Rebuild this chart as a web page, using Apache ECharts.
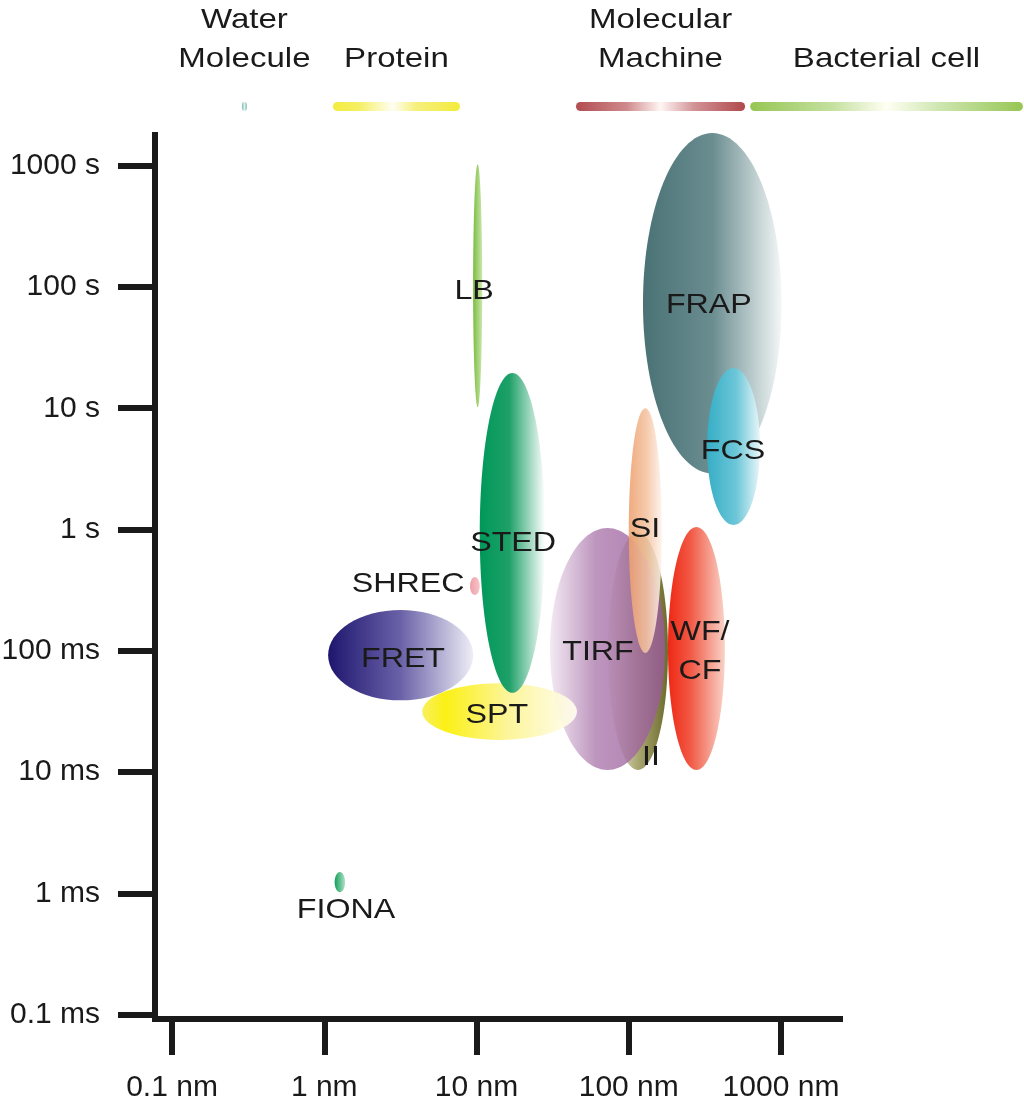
<!DOCTYPE html>
<html>
<head>
<meta charset="utf-8">
<script src="https://cdn.jsdelivr.net/npm/echarts@6/dist/echarts.min.js"></script>
<style>html,body{margin:0;padding:0;background:#fff;}#chart{width:1024px;height:1106px;}</style>
</head>
<body>
<div id="chart"></div>
<script>
// ---- tick labels ----
const xTickValues = [0.1, 1, 10, 100, 1000];
const xTickLabels = ['0.1 nm', '1 nm', '10 nm', '100 nm', '1000 nm'];
const yTickValues = [0.0001, 0.001, 0.01, 0.1, 1, 10, 100, 1000];
const yTickLabels = ['0.1 ms', '1 ms', '10 ms', '100 ms', '1 s', '10 s', '100 s', '1000 s'];

// ---- methods: spatial (nm) and temporal (s) ranges, drawing order ----
const methods   = ['II', 'TIRF', 'SI', 'WF/CF', 'FRAP', 'FCS', 'LB', 'SPT', 'FRET', 'STED', 'SHREC', 'FIONA'];
const sizeMinNm = [73,   30.4,   100,  181,     124,    327,   9.5,  4.4,   1.06,   10.5,   9.06,    1.17];
const sizeMaxNm = [181,  173,    165,  428,     1010,   728,   10.9, 45.7,  9.5,    28.2,   10.5,    1.37];
const timeMinS  = [0.0104, 0.0104, 0.096, 0.0104, 2.9, 1.09, 10.2, 0.0184, 0.039, 0.045, 0.288, 0.00102];
const timeMaxS  = [0.94,   1.03,   10,    1.05,   1860, 21.5, 1030, 0.054, 0.217, 19.5,  0.406, 0.0015];

// ---- method labels ----
const labelText = ['LB', 'FRAP', 'FCS', 'STED', 'SI', 'SHREC', 'FRET', 'TIRF', 'WF/\nCF', 'SPT', 'II', 'FIONA'];
const labelNm   = [9.64, 336, 484, 17.4, 128, 3.55, 3.29, 62.8, 294, 13.6, 140, 1.39];
const labelS    = [92.7, 71, 4.44, 0.774, 1.01, 0.355, 0.0857, 0.0977, 0.0977, 0.0295, 0.0133, 0.00073];

// ---- reference size scales (nm) ----
const scaleNames = ['Water\nMolecule', 'Protein', 'Molecular\nMachine', 'Bacterial cell'];
const scaleMinNm = [0.288, 1.14, 45, 627];
const scaleMaxNm = [0.31, 7.79, 581, 38800];

// ---- styles ----
const methodStyle = {
  'II':    { stops: [[0, '#f3f2e8'], [0.5, '#a9a770'], [1, '#6c6a2c']], opacity: 1 },
  'TIRF':  { stops: [[0, '#f0e4f0'], [0.4, '#ad7bad'], [1, '#985898']], opacity: 0.8 },
  'SI':    { stops: [[0, '#eea06e'], [0.55, '#f4c4a2'], [1, '#fdf3ec']], opacity: 0.88 },
  'WF/CF': { stops: [[0, '#ee2814'], [0.4, '#f15a46'], [1, '#f9d3c8']], opacity: 1 },
  'FRAP':  { stops: [[0, '#4a7275'], [0.5, '#6a8d90'], [1, '#f4f7f7']], opacity: 1 },
  'FCS':   { stops: [[0, '#36aec6'], [0.55, '#6cc6d8'], [1, '#e8f6f9']], opacity: 1 },
  'LB':    { stops: [[0, '#78bd3c'], [1, '#cce6ae']], opacity: 1 },
  'SPT':   { stops: [[0, '#f7ee50'], [0.15, '#fbef00'], [0.55, '#fcf490'], [1, '#fffdf2']], opacity: 0.92 },
  'FRET':  { stops: [[0, '#1e166e'], [0.5, '#6a62a8'], [1, '#eeedf6']], opacity: 1 },
  'STED':  { stops: [[0, '#00985a'], [0.45, '#1ea068'], [1, '#ffffff']], opacity: 1 },
  'SHREC': { stops: [[0, '#eea0a8'], [1, '#f6c4c8']], opacity: 1 },
  'FIONA': { stops: [[0, '#12a058'], [1, '#b0e0c6']], opacity: 1 }
};
const scaleStyle = [
  [[0, '#7ab8b0'], [0.5, '#e4f2f0'], [1, '#7ab8b0']],
  [[0, '#f3ec40'], [0.2, '#f5ef62'], [0.47, '#fffef2'], [0.65, '#f6f07e'], [1, '#f3eb3c']],
  [[0, '#b24c50'], [0.3, '#cf8a8c'], [0.5, '#fff6f4'], [0.7, '#d29296'], [1, '#b0484c']],
  [[0, '#96c654'], [0.3, '#c4e09e'], [0.5, '#fffff4'], [0.7, '#cde5ae'], [1, '#96c654']]
];

const FONT = 'Liberation Sans, Arial, Helvetica, sans-serif';
const TXT = '#1a1a1a';

function grad(stops) {
  return { type: 'linear', x: 0, y: 0, x2: 1, y2: 0,
    colorStops: stops.map(s => ({ offset: s[0], color: s[1] })) };
}
function nearestLabel(values, labels, v) {
  let best = 0, bd = Infinity;
  values.forEach((t, i) => { const d = Math.abs(Math.log10(t) - Math.log10(v)); if (d < bd) { bd = d; best = i; } });
  return labels[best];
}

const chart = echarts.init(document.getElementById('chart'), null, { renderer: 'canvas' });

const option = {
  backgroundColor: '#ffffff',
  animation: false,
  grid: { left: 155, right: 184, top: 135, bottom: 87, containLabel: false, outerBoundsMode: 'none' },
  xAxis: {
    type: 'log', logBase: 10, min: 0.0773, max: 2441,
    axisLine: { show: true, lineStyle: { color: '#1a1a1a', width: 6, cap: 'square' } },
    axisTick: { show: true, customValues: xTickValues, length: 36, lineStyle: { color: '#1a1a1a', width: 6 } },
    axisLabel: { show: true, customValues: xTickValues, margin: 54, fontSize: 30, fontFamily: FONT, color: TXT,
      formatter: v => nearestLabel(xTickValues, xTickLabels, v) },
    splitLine: { show: false }, minorTick: { show: false }
  },
  yAxis: {
    type: 'log', logBase: 10, min: 9.19e-5, max: 1792,
    axisLine: { show: true, lineStyle: { color: '#1a1a1a', width: 6, cap: 'square' } },
    axisTick: { show: true, customValues: yTickValues, length: 37, lineStyle: { color: '#1a1a1a', width: 6 } },
    axisLabel: { show: true, customValues: yTickValues, margin: 55, fontSize: 30, fontFamily: FONT, color: TXT,
      formatter: v => nearestLabel(yTickValues, yTickLabels, v) },
    splitLine: { show: false }, minorTick: { show: false }
  },
  series: [
    {
      type: 'custom', name: 'methods', clip: false, silent: true, z: 2,
      data: methods.map((m, i) => [sizeMinNm[i], sizeMaxNm[i], timeMinS[i], timeMaxS[i]]),
      renderItem: function (params, api) {
        const i = params.dataIndex;
        const p1 = api.coord([api.value(0), api.value(2)]);
        const p2 = api.coord([api.value(1), api.value(3)]);
        const st = methodStyle[methods[i]];
        return {
          type: 'ellipse',
          shape: { cx: (p1[0] + p2[0]) / 2, cy: (p1[1] + p2[1]) / 2,
                   rx: Math.abs(p2[0] - p1[0]) / 2, ry: Math.abs(p2[1] - p1[1]) / 2 },
          style: { fill: grad(st.stops), opacity: st.opacity }
        };
      }
    },
    {
      type: 'custom', name: 'scales', clip: false, silent: true, z: 3,
      data: scaleNames.map((n, i) => [scaleMinNm[i], scaleMaxNm[i]]),
      renderItem: function (params, api) {
        const i = params.dataIndex;
        const x1 = api.coord([api.value(0), 1])[0];
        const x2 = api.coord([api.value(1), 1])[0];
        const barY = 106.5, h = 9;
        return {
          type: 'group',
          children: [
            { type: 'rect', shape: { x: x1, y: barY - h / 2, width: x2 - x1, height: h, r: h / 2 },
              style: { fill: grad(scaleStyle[i]) } },
            { type: 'text', x: (x1 + x2) / 2, y: 79, scaleX: 1.18,
              style: { text: scaleNames[i], fontSize: 28, fontFamily: FONT, fill: TXT,
                       align: 'center', verticalAlign: 'bottom', lineHeight: 39 } }
          ]
        };
      }
    },
    {
      type: 'custom', name: 'labels', clip: false, silent: true, z: 4,
      data: labelText.map((t, i) => [labelNm[i], labelS[i]]),
      renderItem: function (params, api) {
        const i = params.dataIndex;
        const p = api.coord([api.value(0), api.value(1)]);
        return {
          type: 'text', x: p[0], y: p[1], scaleX: 1.15,
          style: { text: labelText[i], fontSize: 28, fontFamily: FONT, fill: TXT,
                   align: 'center', verticalAlign: 'middle', lineHeight: 39 }
        };
      }
    }
  ]
};
chart.setOption(option);
</script>
</body>
</html>
